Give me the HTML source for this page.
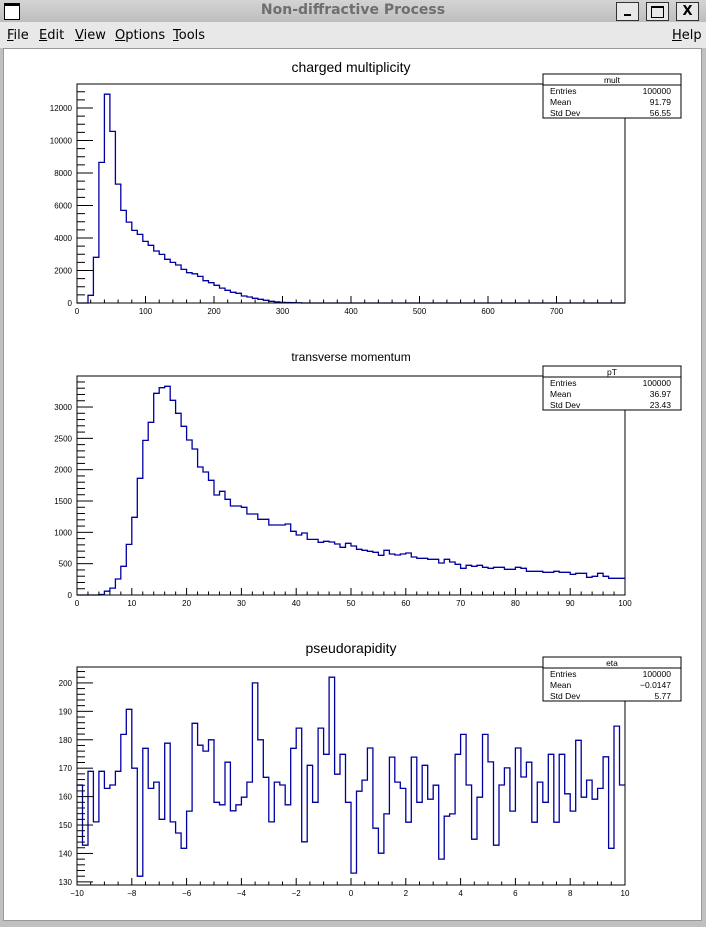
<!DOCTYPE html>
<html><head><meta charset="utf-8">
<style>
html,body{margin:0;padding:0;width:706px;height:927px;overflow:hidden;background:#c0c0c0;font-family:"Liberation Sans",sans-serif;}
#titlebar{position:absolute;left:0;top:0;width:706px;height:22px;background:linear-gradient(#d4d4d4,#bdbdbd);}
#title{position:absolute;left:0;width:706px;top:2px;text-align:center;font:bold 14px "DejaVu Sans",sans-serif;color:#6e6e6e;}
.wbtn{position:absolute;top:2px;width:21px;height:17px;border:1px solid #333;background:#e8e8e8;}
#menubar{position:absolute;left:0;top:22px;width:706px;height:26px;background:#e8e8e8;}
.menu{position:absolute;top:6px;font:13px "DejaVu Sans",sans-serif;color:#000;}
.menu u{text-decoration:underline;}
#canvas{position:absolute;left:3px;top:48px;width:697px;height:871px;background:#fff;border:1px solid #999;}
</style></head><body>
<div id="titlebar">
  <div style="position:absolute;left:4px;top:3px;width:14px;height:13px;border:1px solid #000;background:#fff;border-top:3px solid #000"></div>
  <div id="title">Non-diffractive Process</div>
  <div class="wbtn" style="left:616px"><div style="position:absolute;left:7px;top:11px;width:7px;height:2px;background:#000"></div></div>
  <div class="wbtn" style="left:646px"><div style="position:absolute;left:4px;top:3px;width:11px;height:9px;border:1px solid #000;border-top:2px solid #000"></div></div>
  <div class="wbtn" style="left:676px;font:bold 13px 'DejaVu Sans',sans-serif;text-align:center;line-height:17px">X</div>
</div>
<div id="menubar">
  <span class="menu" style="left:7px"><u>F</u>ile</span>
  <span class="menu" style="left:39px"><u>E</u>dit</span>
  <span class="menu" style="left:75px"><u>V</u>iew</span>
  <span class="menu" style="left:115px"><u>O</u>ptions</span>
  <span class="menu" style="left:173px"><u>T</u>ools</span>
  <span class="menu" style="left:672px"><u>H</u>elp</span>
</div>
<div id="canvas"></div>
<svg id="svg" width="706" height="927" style="position:absolute;left:0;top:0" xmlns="http://www.w3.org/2000/svg"></svg>
<script>
// ---- data ----
const multValues = [0,0,473,2810,8650,12850,10560,7320,5700,4980,4470,4220,3790,3550,3200,2990,2690,2500,2340,2070,1865,1800,1640,1370,1250,1090,920,780,660,595,430,370,290,225,165,105,70,40,30,20,10,0,0,0,0,0,0,0,0,0,0,0,0,0,0,0,0,0,0,0,0,0,0,0,0,0,0,0,0,0,0,0,0,0,0,0,0,0,0,0,0,0,0,0,0,0,0,0,0,0,0,0,0,0,0,0,0,0,0,0];
const ptValues = [0,0,0,0,8,60,110,255,458,808,1240,1862,2468,2756,3219,3309,3330,3107,2900,2692,2474,2330,2043,1963,1830,1596,1655,1527,1420,1420,1400,1293,1293,1208,1208,1117,1117,1117,1133,1016,958,990,888,888,841,857,846,814,761,825,782,729,713,697,681,633,713,654,638,654,670,606,585,585,569,569,511,569,527,490,426,474,458,474,442,426,442,442,410,410,442,426,378,378,378,362,362,378,362,362,330,346,346,282,298,346,298,266,266,266];
const etaValues = [164.1,142.9,168.9,151.1,168.9,162.9,164.1,168.9,181.9,190.7,170,132,177,162.9,165.1,152,178.8,151.1,147.2,141.8,154.9,185.8,178.1,176,180,
158,157.1,172.1,155,157.1,159.8,165.1,200,180,166.8,151.1,165.1,164.1,157.1,177,184.1,144.1,171,158,184.1,174.9,202,167.9,174.9,158,
133.1,161.9,165.8,177.1,148.9,140.1,153.9,173.9,165.1,162.9,151,173.9,158,171,159.1,164,138,153.1,153.9,174.9,181.9,164.1,145,159.8,181.9,
172.2,142.9,164.1,170.1,154.9,177.1,166.9,172.1,151,165.1,158,174.9,151,174.9,161,154.9,179.8,159.8,165.8,159.1,162.9,174,141.8,184.8,164.1];
const multXTicks = [0,100,200,300,400,500,600,700];
const multYTicks = [0,2000,4000,6000,8000,10000,12000];
const ptXTicks = [0,10,20,30,40,50,60,70,80,90,100];
const ptYTicks = [0,500,1000,1500,2000,2500,3000];
const etaXTicks = [-10,-8,-6,-4,-2,0,2,4,6,8,10];
const etaYTicks = [130,140,150,160,170,180,190,200];
const multStats = ["mult","100000","91.79","56.55"];
const ptStats = ["pT","100000","36.97","23.43"];
const etaStats = ["eta","100000","\u22120.0147","5.77"];

const svg = document.getElementById('svg');
const NS = 'http://www.w3.org/2000/svg';
function mk(tag, attrs, parent){ const e=document.createElementNS(NS,tag); for(const k in attrs) e.setAttribute(k,attrs[k]); (parent||svg).appendChild(e); return e; }
function txt(s,x,y,size,anchor,parent){ const t=mk('text',{x:x,y:y,'font-size':size,'text-anchor':anchor||'start','font-family':'Liberation Sans, sans-serif',fill:'#000'},parent); t.textContent=s; return t; }

function drawPlot(cfg){
  const g = mk('g',{});
  
  
  const L=77,R=625,T=cfg.top,B=cfg.bottom;
  const xs = v => L + (v-cfg.xmin)/(cfg.xmax-cfg.xmin)*(R-L);
  const ys = v => B - (v-cfg.ymin)/(cfg.ymax-cfg.ymin)*(B-T);
  // histogram
  const n = cfg.values.length, bw=(cfg.xmax-cfg.xmin)/n;
  let d = cfg.startBase ? `M${L},${B}` : `M${L},${ys(cfg.values[0])}`;
  for(let i=0;i<n;i++){ const y=ys(cfg.values[i]); d += ` V${y.toFixed(1)} H${xs(cfg.xmin+(i+1)*bw).toFixed(1)}`; }
  const p = mk('path',{d:d,fill:'none',stroke:'#0000a0','stroke-width':1.3},g);
  
  
  // frame
  const fr = mk('rect',{x:L,y:T,width:R-L,height:B-T,fill:'none',stroke:'#000','stroke-width':1},g);
  
  
  // y ticks
  const ystep = cfg.yTicks[1]-cfg.yTicks[0], ysub = ystep/cfg.ySub;
  for(let v=Math.ceil(cfg.ymin/ysub)*ysub; v<=cfg.ymax+1e-9; v+=ysub){
    const major = Math.abs((v - cfg.yTicks[0])/ystep - Math.round((v - cfg.yTicks[0])/ystep))<1e-6;
    const y=ys(v); mk('line',{x1:L,x2:L+(major?16:8),y1:y,y2:y,stroke:'#000','stroke-width':1},g);
  }
  cfg.yTicks.forEach(v=>{ const t=txt(String(v),72,ys(v)+3,8,'end',g);
    
     });
  // x ticks
  const xstep = cfg.xTicks[1]-cfg.xTicks[0], xsub = xstep/cfg.xSub;
  for(let v=cfg.xmin; v<=cfg.xmax+1e-9; v+=xsub){
    const q=(v-cfg.xTicks[0])/xstep; const major=Math.abs(q-Math.round(q))<1e-6;
    const x=xs(v); mk('line',{x1:x,x2:x,y1:B,y2:B-(major?7:3.5),stroke:'#000','stroke-width':1},g);
  }
  cfg.xTicks.forEach(v=>{ const t=txt(String(v).replace('-','\u2212'),xs(v),B+11,8,'middle',g);
    
     });
  // title
  const tt = txt(cfg.title,351,cfg.titleY,cfg.titleSize,'middle',g);
  
  
  // stats box
  const sb = mk('g',{},g);
  
  
  const sy=cfg.statTop;
  mk('rect',{x:543,y:sy,width:138,height:44,fill:'#fff',stroke:'#000','stroke-width':1},sb);
  mk('line',{x1:543,x2:681,y1:sy+11,y2:sy+11,stroke:'#000','stroke-width':1},sb);
  txt(cfg.stats[0],612,sy+9,8.5,'middle',sb);
  ['Entries','Mean','Std Dev'].forEach((k,i)=>{ txt(k,550,sy+20+i*11,8.5,'start',sb); txt(cfg.stats[i+1],671,sy+20+i*11,8.5,'end',sb); });
}
drawPlot({name:'mult-plot',values:multValues,xmin:0,xmax:800,ymin:0,ymax:13477,top:84,bottom:303,xTicks:multXTicks,yTicks:multYTicks,xSub:5,ySub:4,title:'charged multiplicity',titleY:72,titleSize:14,stats:multStats,statTop:74,startBase:true});
drawPlot({name:'pt-plot',values:ptValues,xmin:0,xmax:100,ymin:0,ymax:3495,top:376,bottom:595,xTicks:ptXTicks,yTicks:ptYTicks,xSub:5,ySub:5,title:'transverse momentum',titleY:361,titleSize:12,stats:ptStats,statTop:366,startBase:true});
drawPlot({name:'eta-plot',values:etaValues,xmin:-10,xmax:10,ymin:128.9,ymax:205.6,top:667,bottom:885,xTicks:etaXTicks,yTicks:etaYTicks,xSub:4,ySub:5,title:'pseudorapidity',titleY:653,titleSize:14,stats:etaStats,statTop:657,startBase:false});
</script>
</body></html>
